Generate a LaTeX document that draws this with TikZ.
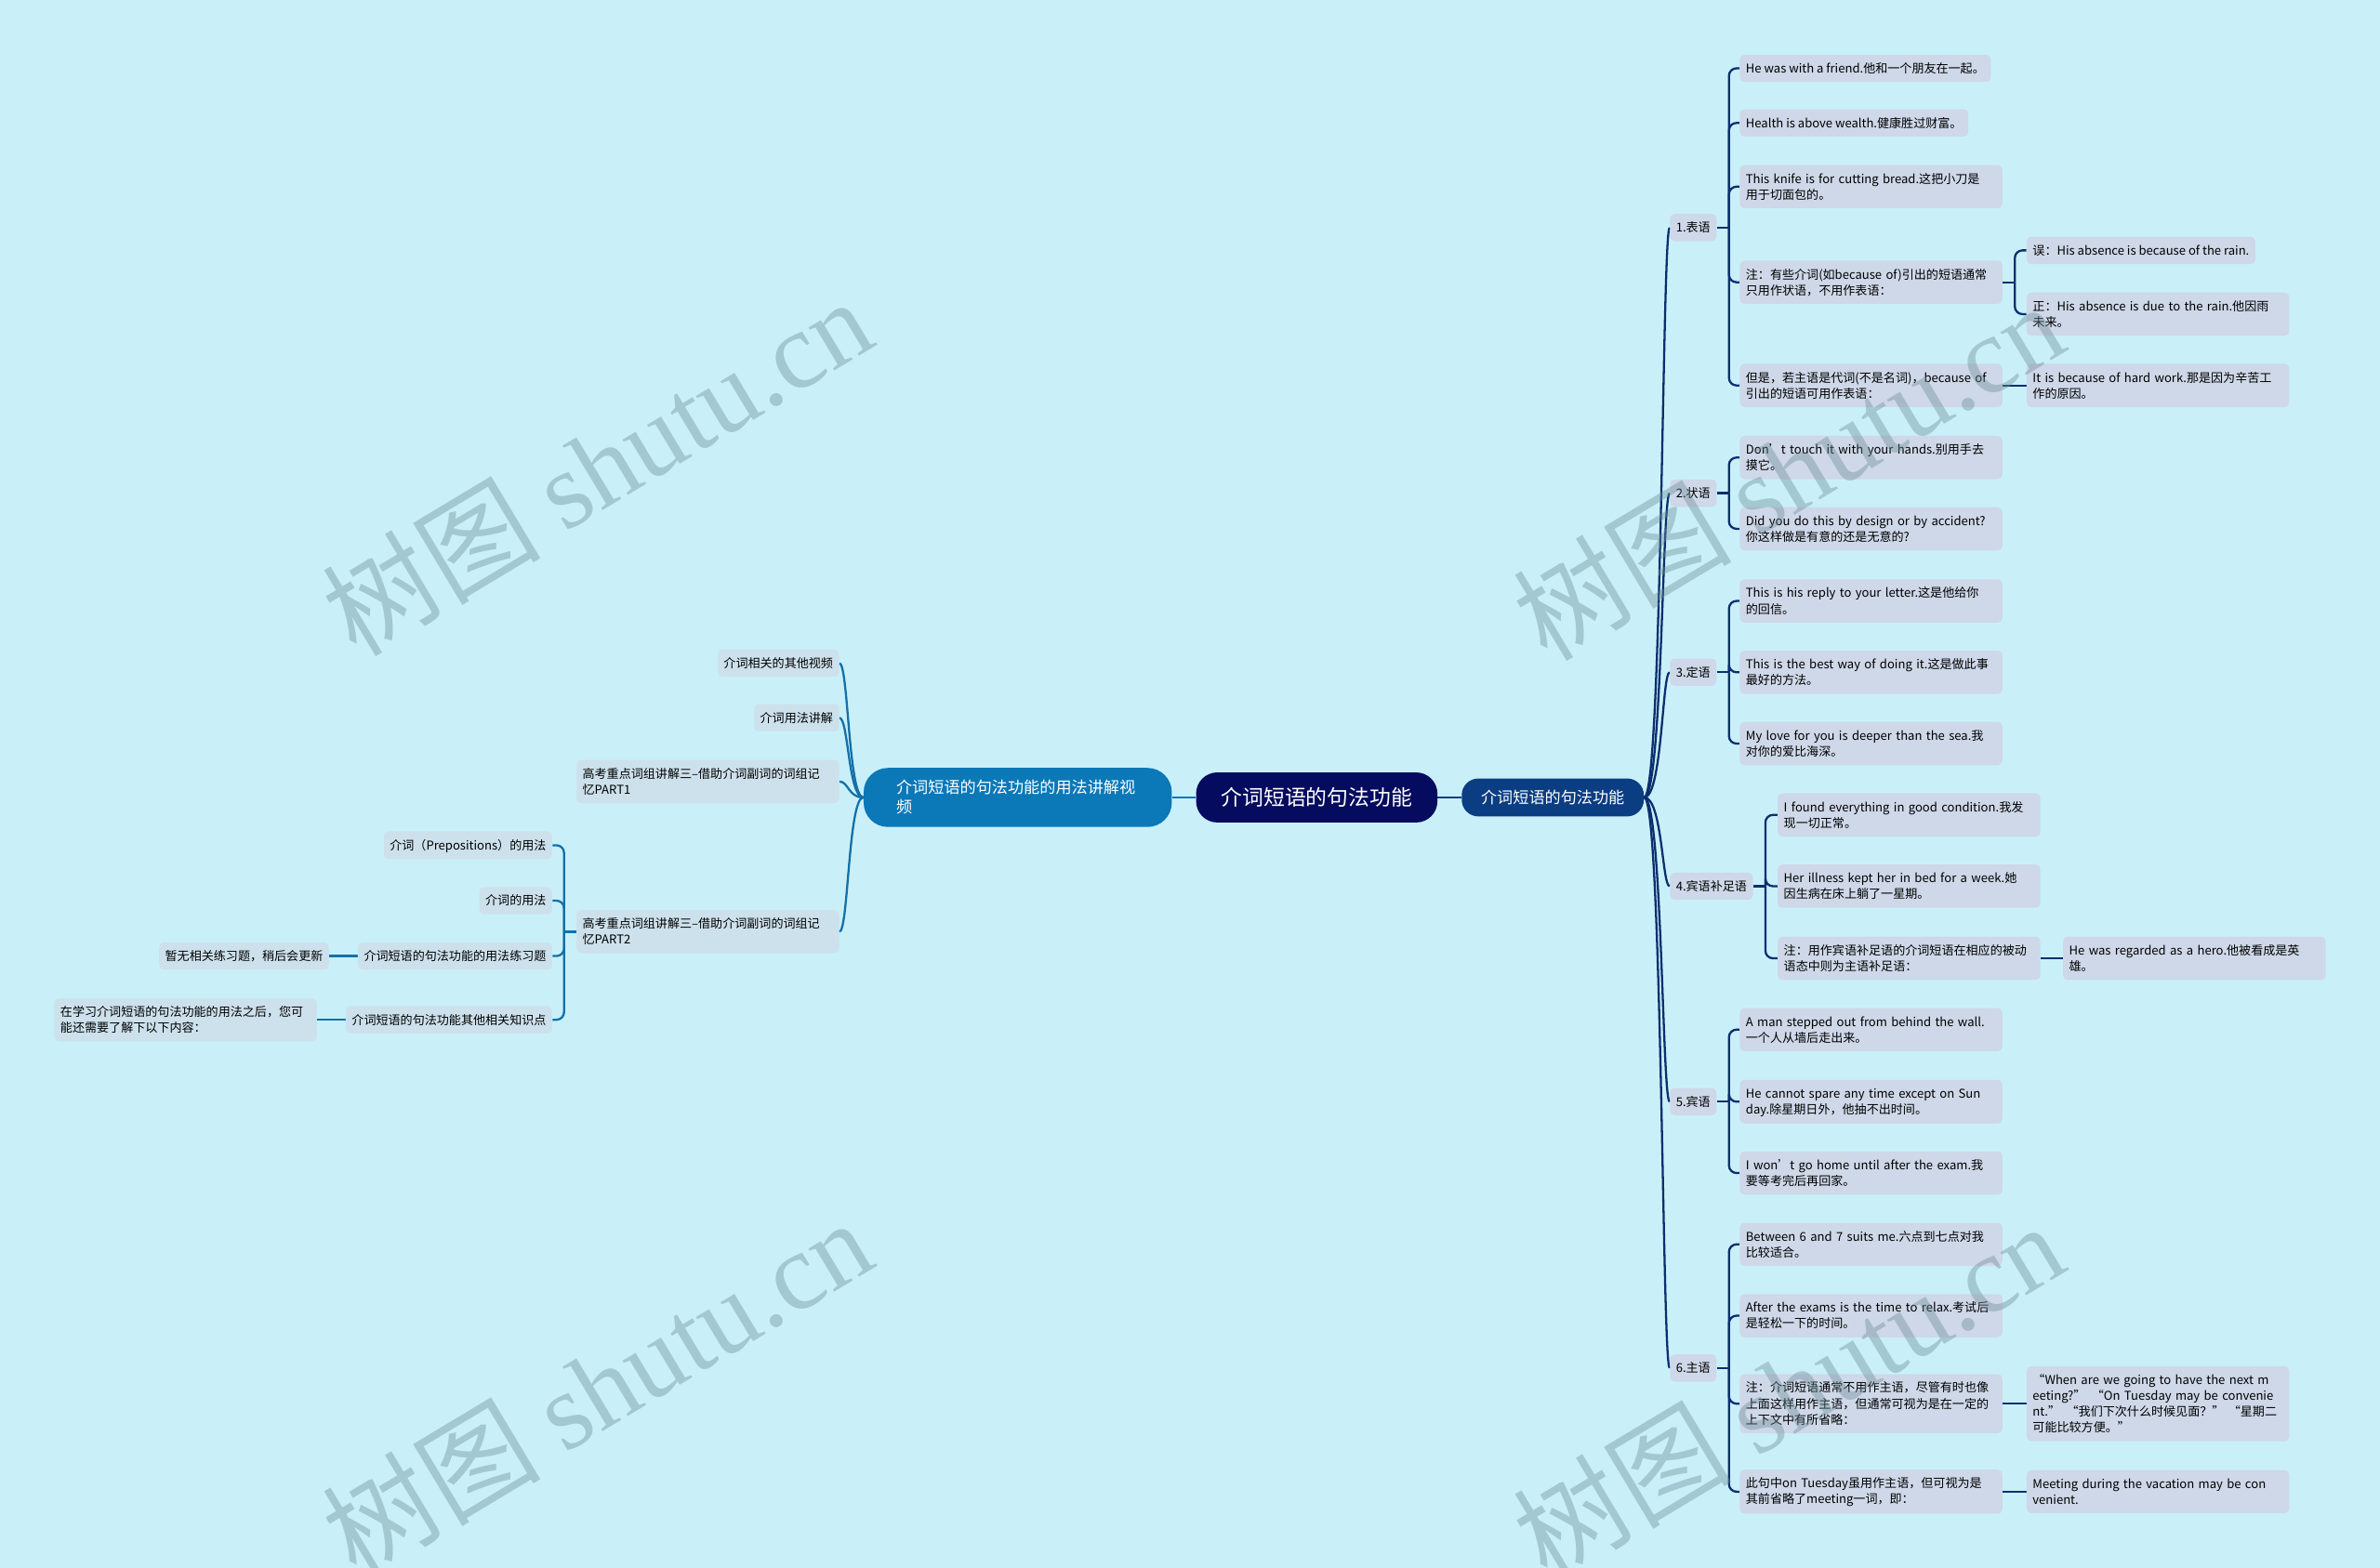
\documentclass[tikz,border=0pt]{standalone}
\usepackage{fontspec}
\setmainfont{Noto Sans CJK SC}
\newfontfamily\wmserif{Liberation Serif}
\usetikzlibrary{calc}
\definecolor{bgc}{HTML}{C9F0F8}
\definecolor{boxR}{HTML}{CED8E8}
\definecolor{boxL}{HTML}{CDE1EC}
\definecolor{lineR}{HTML}{0B2F6E}
\definecolor{lineL}{HTML}{1470A8}
\definecolor{ctc}{HTML}{050B5E}
\definecolor{rmc}{HTML}{0B3D82}
\definecolor{lmc}{HTML}{0B78B8}
\definecolor{wmc}{HTML}{6E8C96}
\newcommand\myst{\rule[-1.5pt]{0pt}{9pt}}
\newcommand\myl[1]{\mbox{\myst#1}}
\newcommand\bigst{\rule[-2pt]{0pt}{11pt}}
\pgfdeclarelayer{bgl}
\pgfsetlayers{bgl,main}
\begin{document}
\begin{tikzpicture}[x=1pt,y=-1pt,
  box/.style={rounded corners=3pt, inner xsep=4pt, inner ysep=4.5pt, font=\fontsize{8}{10.5}\selectfont, align=left, text=black},
  rbox/.style={box, fill=boxR, anchor=west},
  lbox/.style={box, fill=boxL, anchor=east},
  wide/.style={text width=165pt},
  conR/.style={draw=lineR, line width=1.4pt},
  conL/.style={draw=lineL, line width=1.4pt},
  wm/.style={text=wmc, text opacity=0.4, rotate=31, font=\fontsize{72}{72}\selectfont, inner sep=0pt}
]
\useasboundingbox (0,0) rectangle (1568,1033);
\begin{pgfonlayer}{bgl}
\fill[bgc] (0,0) rectangle (1568,1033);
\end{pgfonlayer}

% central nodes
\node[fill=ctc, text=white, rounded corners=14pt, minimum width=159pt, minimum height=33pt, inner sep=0pt, font=\fontsize{14}{16}\selectfont] (ct) at (867.5,525.5) {介词短语的句法功能};
\node[fill=rmc, text=white, rounded corners=11pt, minimum width=120pt, minimum height=25pt, inner sep=0pt, font=\fontsize{10.5}{12}\selectfont] (rm) at (1023,525.5) {介词短语的句法功能};
\node[fill=lmc, text=white, rounded corners=16pt, text width=160pt, inner xsep=21.5pt, inner ysep=7.6pt, align=left, font=\fontsize{10.5}{12.7}\selectfont] (lm) at (670.5,525.5) {\mbox{\bigst 介词短语的句法功能的用法讲解视}\\\mbox{\bigst 频}};

% categories
\node[rbox] (c1) at (1100,150) {\myl{1.表语}};
\node[rbox] (c2) at (1100,325) {\myl{2.状语}};
\node[rbox] (c3) at (1100,443) {\myl{3.定语}};
\node[rbox] (c4) at (1100,584) {\myl{4.宾语补足语}};
\node[rbox] (c5) at (1100,726) {\myl{5.宾语}};
\node[rbox] (c6) at (1100,901.5) {\myl{6.主语}};

% 1
\node[rbox] (l11) at (1146,45) {\myl{He was with a friend.他和一个朋友在一起。}};
\node[rbox] (l12) at (1146,81) {\myl{Health is above wealth.健康胜过财富。}};
\node[rbox,wide] (l13) at (1146,123) {\myl{This knife is for cutting bread.这把小刀是}\\\myl{用于切面包的。}};
\node[rbox,wide] (l14) at (1146,186) {\myl{注：有些介词(如because of)引出的短语通常}\\\myl{只用作状语，不用作表语：}};
\node[rbox] (l141) at (1335,165) {\myl{误：His absence is because of the rain.}};
\node[rbox,wide] (l142) at (1335,207) {\myl{正：His absence is due to the rain.他因雨}\\\myl{未来。}};
\node[rbox,wide] (l15) at (1146,254) {\myl{但是，若主语是代词(不是名词)，because of}\\\myl{引出的短语可用作表语：}};
\node[rbox,wide] (l151) at (1335,254) {\myl{It is because of hard work.那是因为辛苦工}\\\myl{作的原因。}};
% 2
\node[rbox,wide] (l21) at (1146,301.5) {\myl{Don’t touch it with your hands.别用手去}\\\myl{摸它。}};
\node[rbox,wide] (l22) at (1146,348.5) {\myl{Did you do this by design or by accident?}\\\myl{你这样做是有意的还是无意的?}};
% 3
\node[rbox,wide] (l31) at (1146,396) {\myl{This is his reply to your letter.这是他给你}\\\myl{的回信。}};
\node[rbox,wide] (l32) at (1146,443) {\myl{This is the best way of doing it.这是做此事}\\\myl{最好的方法。}};
\node[rbox,wide] (l33) at (1146,490) {\myl{My love for you is deeper than the sea.我}\\\myl{对你的爱比海深。}};
% 4
\node[rbox,wide] (l41) at (1171,537) {\myl{I found everything in good condition.我发}\\\myl{现一切正常。}};
\node[rbox,wide] (l42) at (1171,584) {\myl{Her illness kept her in bed for a week.她}\\\myl{因生病在床上躺了一星期。}};
\node[rbox,wide] (l43) at (1171,631.5) {\myl{注：用作宾语补足语的介词短语在相应的被动}\\\myl{语态中则为主语补足语：}};
\node[rbox,wide] (l431) at (1359,631.5) {\myl{He was regarded as a hero.他被看成是英}\\\myl{雄。}};
% 5
\node[rbox,wide] (l51) at (1146,678.5) {\myl{A man stepped out from behind the wall.}\\\myl{一个人从墙后走出来。}};
\node[rbox,wide] (l52) at (1146,726) {\myl{He cannot spare any time except on Sun}\\\myl{day.除星期日外，他抽不出时间。}};
\node[rbox,wide] (l53) at (1146,773) {\myl{I won’t go home until after the exam.我}\\\myl{要等考完后再回家。}};
% 6
\node[rbox,wide] (l61) at (1146,820) {\myl{Between 6 and 7 suits me.六点到七点对我}\\\myl{比较适合。}};
\node[rbox,wide] (l62) at (1146,867) {\myl{After the exams is the time to relax.考试后}\\\myl{是轻松一下的时间。}};
\node[rbox,wide] (l63) at (1146,925) {\myl{注：介词短语通常不用作主语，尽管有时也像}\\\myl{上面这样用作主语，但通常可视为是在一定的}\\\myl{上下文中有所省略：}};
\node[rbox,wide] (l631) at (1335,925) {\myl{“When are we going to have the next m}\\\myl{eeting?” “On Tuesday may be convenie}\\\myl{nt.” “我们下次什么时候见面？” “星期二}\\\myl{可能比较方便。”}};
\node[rbox,wide] (l64) at (1146,983) {\myl{此句中on Tuesday虽用作主语，但可视为是}\\\myl{其前省略了meeting一词，即：}};
\node[rbox,wide] (l641) at (1335,983) {\myl{Meeting during the vacation may be con}\\\myl{venient.}};

% left side
\node[lbox] (a1) at (553,437) {\myl{介词相关的其他视频}};
\node[lbox] (a2) at (553,473) {\myl{介词用法讲解}};
\node[lbox,wide] (a3) at (553,515) {\myl{高考重点词组讲解三--借助介词副词的词组记}\\\myl{忆PART1}};
\node[lbox,wide] (a4) at (553,614) {\myl{高考重点词组讲解三--借助介词副词的词组记}\\\myl{忆PART2}};
\node[lbox] (b1) at (364,557) {\myl{介词（Prepositions）的用法}};
\node[lbox] (b2) at (364,593.5) {\myl{介词的用法}};
\node[lbox] (b3) at (364,630) {\myl{介词短语的句法功能的用法练习题}};
\node[lbox] (b4) at (364,672) {\myl{介词短语的句法功能其他相关知识点}};
\node[lbox] (d3) at (217,630) {\myl{暂无相关练习题，稍后会更新}};
\node[lbox,wide] (d4) at (209,672) {\myl{在学习介词短语的句法功能的用法之后，您可}\\\myl{能还需要了解下以下内容：}};

\begin{pgfonlayer}{bgl}
% center links
\draw[draw=rmc, line width=1.8pt] (ct.east) -- (rm.west);
\draw[draw=lmc, line width=1.8pt] (ct.west) -- (lm.east);
% right main to categories
\foreach \c in {c1,c2,c3,c4,c5,c6}
  \draw[conR] (rm.east) .. controls +(12,0) and +(-5,0) .. (\c.west);
% category stubs
\foreach \c in {c1,c2,c3,c4,c5,c6}
  \draw[conR] (\c.east) -- ++(8,0) coordinate (\c s);
\foreach \c/\l in {c1/l11,c1/l12,c1/l13,c1/l14,c1/l15,c2/l21,c2/l22,c3/l31,c3/l32,c3/l33,c4/l41,c4/l42,c4/l43,c5/l51,c5/l52,c5/l53,c6/l61,c6/l62,c6/l63,c6/l64}
  \draw[conR, rounded corners=5pt] (\c s) |- (\l.west);
% note children
\draw[conR] (l14.east) -- ++(8,0) coordinate (l14s);
\draw[conR, rounded corners=5pt] (l14s) |- (l141.west);
\draw[conR, rounded corners=5pt] (l14s) |- (l142.west);
\draw[conR] (l15.east) -- (l151.west);
\draw[conR] (l43.east) -- (l431.west);
\draw[conR] (l63.east) -- (l631.west);
\draw[conR] (l64.east) -- (l641.west);
% left main to children
\foreach \a in {a1,a2,a3,a4}
  \draw[conL] (lm.west) .. controls +(-10,0) and +(6,0) .. (\a.east);
\draw[conL] (a4.west) -- ++(-8,0) coordinate (a4s);
\foreach \b in {b1,b2,b3,b4}
  \draw[conL, rounded corners=5pt] (a4s) |- (\b.east);
\draw[conL] (b3.west) -- (d3.east);
\draw[conL] (b4.west) -- (d4.east);
\end{pgfonlayer}

% watermarks
\node[wm] (w1) at (393,307) {树图 {\wmserif shutu.cn}};
\node[wm] (w2) at (393,914) {树图 {\wmserif shutu.cn}};
\node[wm] (w3) at (1178,310) {树图 {\wmserif shutu.cn}};
\node[wm] (w4) at (1178,916) {树图 {\wmserif shutu.cn}};
\end{tikzpicture}
\end{document}
